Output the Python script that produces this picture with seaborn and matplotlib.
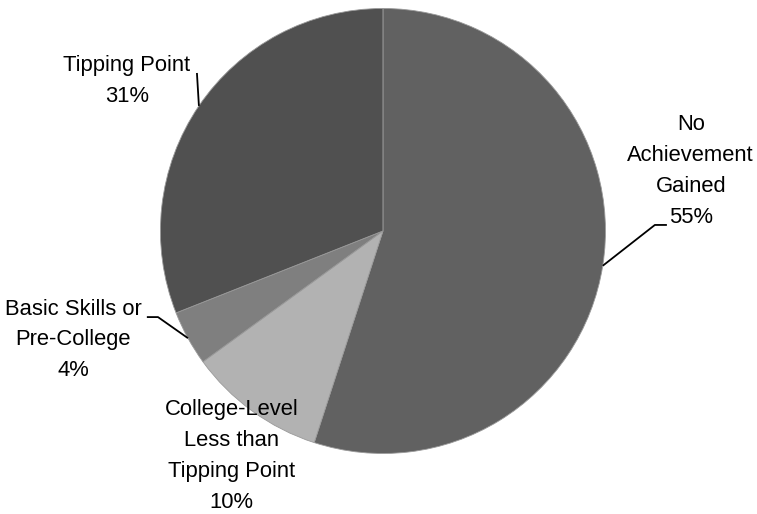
import numpy as np
import matplotlib
matplotlib.use("Agg")
import matplotlib.pyplot as plt
import seaborn as sns

categories = ["No\nAchievement\nGained", "College-Level\nLess than\nTipping Point",
              "Basic Skills or\nPre-College", "Tipping Point"]
shares = [55, 10, 4, 31]
colors = ["#616161", "#b2b2b2", "#7f7f7f", "#505050"]

sns.set_theme(style="white")
plt.rcParams["font.family"] = ["Liberation Sans Narrow", "Liberation Sans", "DejaVu Sans"]

fig = plt.figure(figsize=(7.57, 5.14), dpi=100)
ax = fig.add_axes([0, 0, 1, 1])

wedges, _ = ax.pie(shares, colors=colors, startangle=90, counterclock=False,
                   radius=1, wedgeprops=dict(edgecolor="#9a9a9a", linewidth=0.6))

ax.set_xlim(-1.721, 1.681)
ax.set_ylim(-1.272, 1.038)
ax.set_aspect("auto")
ax.axis("off")

# label centre and leader elbow for each slice (None = no leader)
label_pos = [(1.383, 0.27), (-0.679, -1.011), (-1.393, -0.49), (-1.151, 0.674)]
elbows = [[(1.276, 0.027), (1.222, 0.027)], None,
          [(-1.061, -0.387), (-1.011, -0.387)], [(-0.836, 0.710)]]

for w, cat, val, pos, elb in zip(wedges, categories, shares, label_pos, elbows):
    ax.text(pos[0], pos[1], f"{cat}\n{val}%", ha="center", va="center",
            fontsize=15.8, linespacing=1.62, color="black")
    if elb is None:
        continue
    mid = np.deg2rad((w.theta1 + w.theta2) / 2)
    edge = (np.cos(mid), np.sin(mid))
    xs = [p[0] for p in elb] + [edge[0]]
    ys = [p[1] for p in elb] + [edge[1]]
    ax.plot(xs, ys, color="black", lw=1.3, solid_capstyle="butt")

fig.savefig("out.png", dpi=100, facecolor="white")
